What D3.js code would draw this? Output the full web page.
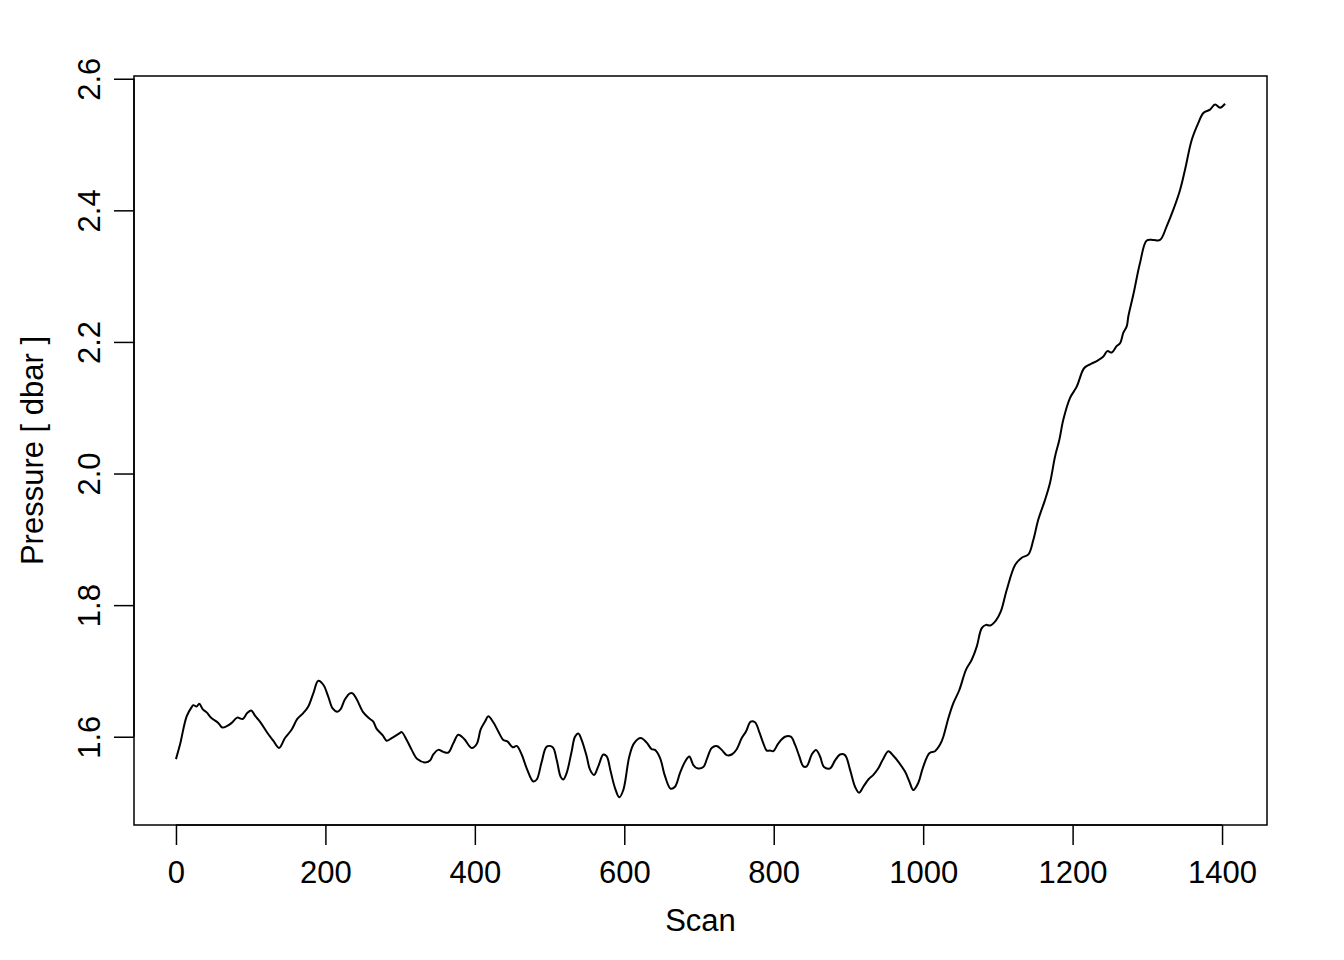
<!DOCTYPE html>
<html lang="en">
<head>
<meta charset="utf-8">
<title>Pressure by scan</title>
<script src="https://cdn.jsdelivr.net/npm/d3@7"></script>
<style>
  body { margin: 0; background: #fff; }
  text { font-family: "Liberation Sans", Arial, Helvetica, sans-serif; fill: #000; }
</style>
</head>
<body>
<script>
// scan numbers and pressures
var scans = [0, 5.4, 14.3, 21, 23.2, 27.7, 31.2, 35.7, 41.1, 47.8, 56.6, 62, 67.9, 74.6, 82, 89.3, 95.4, 100.8,
  105.7, 112.4, 122.2, 130.2, 137.9, 145.9, 154.9, 162.4, 170.4, 177.1, 183.8, 190.5, 197.2, 203.8, 209.7,
  215.9, 220.4, 226.2, 232.9, 236.5, 241.9, 250.7, 259.7, 264.1, 268.6, 276.7, 282, 288.7, 298.9, 302.1,
  308.8, 315.5, 323, 333.3, 340, 344.4, 351.1, 357.8, 364.5, 371.2, 377.8, 385.5, 395.8, 402.5, 407.8,
  413.6, 418, 424.7, 431.4, 438.1, 443.4, 450.7, 456, 462.7, 469.4, 478.2, 482.8, 489.5, 496.2, 504.2,
  509.5, 514.9, 518.4, 522.9, 529.6, 534, 538.5, 543, 549.7, 554.1, 559.5, 565.2, 571.9, 576.5, 581.8,
  587.6, 593.3, 598.7, 606.7, 613, 622, 630, 636.7, 641.1, 647.8, 654.5, 662.1, 667.9, 674.6, 681.3,
  687, 692.4, 697.7, 705.8, 711.1, 717, 723.7, 730.4, 737.1, 743.8, 750.5, 757.2, 762.9, 769.2, 775,
  780.7, 786.1, 790.6, 795, 799.5, 806.2, 815.1, 822.8, 828.5, 834.3, 839.6, 844.2, 850.9, 856.6, 862,
  867.3, 875.4, 882.1, 888.7, 895.4, 902.1, 908.8, 914.2, 919.9, 926.6, 933.3, 940, 945.9, 953.4, 960.1,
  968.1, 975.7, 981.5, 986.8, 993.5, 999.4, 1008.3, 1015.9, 1022.6, 1027, 1033.7, 1040.4, 1048.4, 1057.4,
  1065, 1071.7, 1078.4, 1084.1, 1089.5, 1097.5, 1103.8, 1111.8, 1123, 1131.9, 1140.8, 1147.4, 1154.1,
  1163.1, 1169.8, 1176.5, 1182.2, 1187.6, 1196.6, 1205.5, 1215.3, 1223.4, 1232.3, 1241.2, 1246.5, 1252.4,
  1259.1, 1263.5, 1267.9, 1272.5, 1274.6, 1281.3, 1290.2, 1299.2, 1308, 1317, 1326, 1334.8, 1343.8,
  1350.5, 1359.4, 1368.3, 1375, 1383.9, 1390.6, 1397.3, 1404];

var pressure = [1.566, 1.588, 1.631, 1.645, 1.648, 1.646, 1.650, 1.642, 1.637, 1.628, 1.621, 1.614, 1.616,
  1.621, 1.629, 1.627, 1.636, 1.640, 1.632, 1.623, 1.606, 1.594, 1.583, 1.598, 1.611, 1.627, 1.636, 1.646,
  1.666, 1.685, 1.679, 1.661, 1.643, 1.638, 1.642, 1.657, 1.666, 1.666, 1.657, 1.637, 1.627, 1.623, 1.612,
  1.602, 1.594, 1.598, 1.605, 1.607, 1.595, 1.580, 1.566, 1.561, 1.564, 1.573, 1.580, 1.577, 1.576, 1.590,
  1.603, 1.597, 1.583, 1.589, 1.611, 1.623, 1.631, 1.622, 1.608, 1.595, 1.593, 1.584, 1.586, 1.573, 1.552,
  1.532, 1.535, 1.562, 1.585, 1.584, 1.565, 1.539, 1.535, 1.545, 1.578, 1.600, 1.605, 1.595, 1.570, 1.550,
  1.542, 1.555, 1.573, 1.570, 1.547, 1.522, 1.508, 1.519, 1.570, 1.590, 1.598, 1.591, 1.581, 1.580, 1.568,
  1.540, 1.521, 1.524, 1.545, 1.562, 1.570, 1.557, 1.552, 1.554, 1.568, 1.583, 1.586, 1.580, 1.572, 1.573,
  1.581, 1.598, 1.608, 1.623, 1.622, 1.607, 1.590, 1.579, 1.579, 1.578, 1.590, 1.600, 1.600, 1.588, 1.570,
  1.555, 1.555, 1.573, 1.580, 1.570, 1.554, 1.552, 1.564, 1.573, 1.572, 1.550, 1.524, 1.515, 1.524, 1.535,
  1.542, 1.552, 1.565, 1.578, 1.571, 1.560, 1.547, 1.532, 1.519, 1.530, 1.552, 1.575, 1.578, 1.588, 1.600,
  1.628, 1.651, 1.671, 1.702, 1.717, 1.737, 1.765, 1.770, 1.769, 1.777, 1.790, 1.823, 1.861, 1.872, 1.877,
  1.899, 1.930, 1.960, 1.986, 2.026, 2.051, 2.082, 2.115, 2.132, 2.160, 2.166, 2.171, 2.178, 2.186, 2.184,
  2.194, 2.198, 2.214, 2.224, 2.239, 2.272, 2.320, 2.354, 2.355, 2.355, 2.376, 2.401, 2.431, 2.462, 2.507,
  2.533, 2.548, 2.553, 2.561, 2.556, 2.562];

var xTicks = [0, 200, 400, 600, 800, 1000, 1200, 1400];
var yTicks = [1.6, 1.8, 2.0, 2.2, 2.4, 2.6];

var w = 1344, h = 960;
var margin = {top: 76, right: 77, bottom: 135, left: 134};
var fontSize = 31;

// R-style 4% padding on both axes
var xExt = d3.extent(scans), yExt = d3.extent(pressure);
var xPad = (xExt[1] - xExt[0]) * 0.04, yPad = (yExt[1] - yExt[0]) * 0.04;

var xScale = d3.scaleLinear()
  .domain([xExt[0] - xPad, xExt[1] + xPad])
  .range([margin.left, w - margin.right]);
var yScale = d3.scaleLinear()
  .domain([yExt[0] - yPad, yExt[1] + yPad])
  .range([h - margin.bottom, margin.top]);

var svg = d3.select("body").append("svg")
  .attr("width", w)
  .attr("height", h);

var data = scans.map(function(s, i) { return [s, pressure[i]]; });

// trace
svg.append("path")
  .datum(data)
  .attr("fill", "none")
  .attr("stroke", "#000")
  .attr("stroke-width", 2)
  .attr("stroke-linejoin", "round")
  .attr("d", d3.line()
    .curve(d3.curveCatmullRom.alpha(0.5))
    .x(function(d) { return xScale(d[0]); })
    .y(function(d) { return yScale(d[1]); }));

// box
svg.append("rect")
  .attr("x", margin.left)
  .attr("y", margin.top)
  .attr("width", w - margin.left - margin.right)
  .attr("height", h - margin.top - margin.bottom)
  .attr("fill", "none")
  .attr("stroke", "#000")
  .attr("stroke-width", 1.5);

// x axis
var xAxis = d3.axisBottom(xScale)
  .tickValues(xTicks)
  .tickSize(20)
  .tickPadding(16)
  .tickFormat(d3.format("d"));

var gx = svg.append("g")
  .attr("transform", "translate(0," + (h - margin.bottom) + ")")
  .call(xAxis);
gx.select(".domain")
  .attr("d", "M" + xScale(xTicks[0]) + ",0H" + xScale(xTicks[xTicks.length - 1]));
gx.selectAll("line, path").attr("stroke", "#000").attr("stroke-width", 1.5);
gx.selectAll("text")
  .attr("font-size", fontSize)
  .attr("font-family", "Liberation Sans, Arial, sans-serif")
  .attr("fill", "#000");

// y axis with rotated labels
var yAxis = d3.axisLeft(yScale)
  .tickValues(yTicks)
  .tickSize(20)
  .tickFormat(d3.format(".1f"));

var gy = svg.append("g")
  .attr("transform", "translate(" + margin.left + ",0)")
  .call(yAxis);
gy.select(".domain")
  .attr("d", "M0," + yScale(yTicks[0]) + "V" + yScale(yTicks[yTicks.length - 1]));
gy.selectAll("line, path").attr("stroke", "#000").attr("stroke-width", 1.5);
gy.selectAll(".tick text")
  .attr("x", null)
  .attr("dy", null)
  .attr("transform", "translate(-34,0) rotate(-90)")
  .attr("text-anchor", "middle")
  .attr("font-size", fontSize)
  .attr("font-family", "Liberation Sans, Arial, sans-serif")
  .attr("fill", "#000");

// axis titles
svg.append("text")
  .attr("x", (margin.left + w - margin.right) / 2)
  .attr("y", 931)
  .attr("text-anchor", "middle")
  .attr("font-size", fontSize)
  .text("Scan");

svg.append("text")
  .attr("transform", "translate(43," + ((margin.top + h - margin.bottom) / 2) + ") rotate(-90)")
  .attr("text-anchor", "middle")
  .attr("font-size", fontSize)
  .text("Pressure [ dbar ]");
</script>
</body>
</html>
